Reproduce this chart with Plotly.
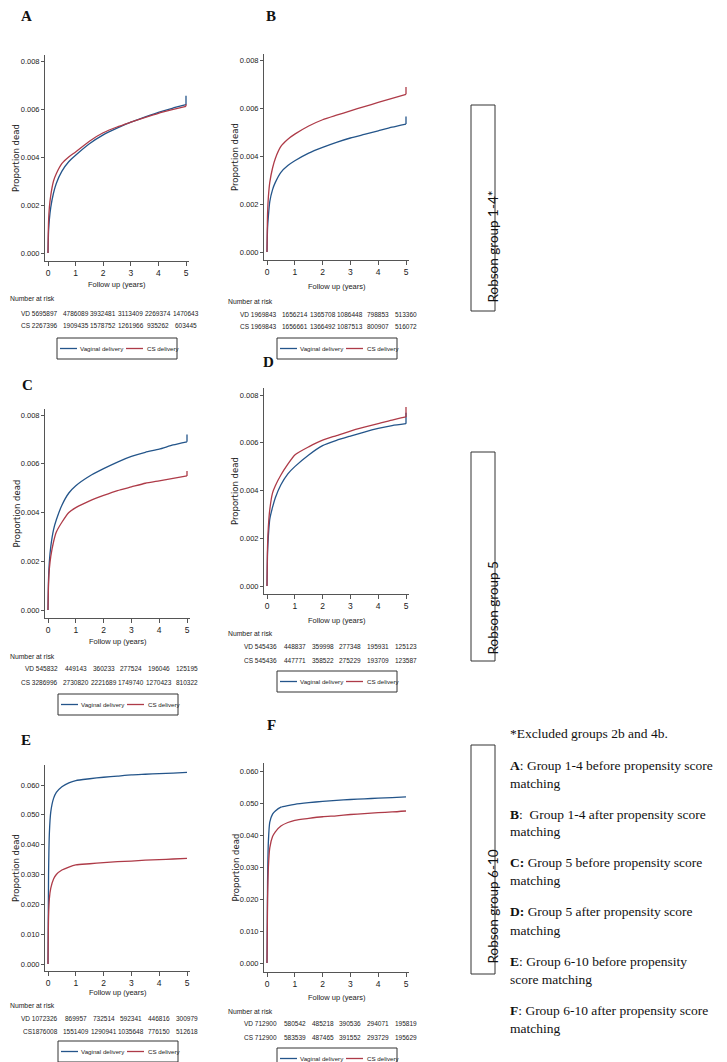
import plotly.graph_objects as go

W, H = 727, 1062

# ---------------- data ----------------
years = [0, 0.02, 0.05, 0.1, 0.2, 0.3, 0.5, 0.75, 1, 1.5, 2, 2.5, 3, 3.5, 4, 4.5, 5, 5]
x_ticks = [0, 1, 2, 3, 4, 5]
risk_times = [0, 1, 2, 3, 4, 5]
y_ticks_small = [0, 0.002, 0.004, 0.006, 0.008]
y_ticks_large = [0, 0.01, 0.02, 0.03, 0.04, 0.05, 0.06]
series_names = ["Vaginal delivery", "CS delivery"]

a_vd = [0, 0.0009, 0.0014, 0.0019, 0.0025, 0.0029, 0.0034, 0.0038, 0.00407, 0.00455, 0.00492, 0.0052, 0.00545, 0.00566, 0.00586, 0.00603, 0.00618, 0.00655]
a_cs = [0, 0.0013, 0.0019, 0.0024, 0.0030, 0.0033, 0.00372, 0.0040, 0.00421, 0.00466, 0.00501, 0.00525, 0.00545, 0.00564, 0.00582, 0.00597, 0.00611, 0.0062]
b_vd = [0, 0.0010, 0.0015, 0.0021, 0.0026, 0.0029, 0.00332, 0.0036, 0.0038, 0.00412, 0.00436, 0.00457, 0.00475, 0.0049, 0.00505, 0.0052, 0.00533, 0.00565]
b_cs = [0, 0.0016, 0.0023, 0.0029, 0.0035, 0.0039, 0.0044, 0.0047, 0.00491, 0.00525, 0.00551, 0.0057, 0.00588, 0.00606, 0.00623, 0.0064, 0.00657, 0.00687]
c_vd = [0, 0.0013, 0.0020, 0.0026, 0.0033, 0.0037, 0.0043, 0.0048, 0.0051, 0.0055, 0.0058, 0.00607, 0.0063, 0.00647, 0.0066, 0.00677, 0.0069, 0.0072]
c_cs = [0, 0.0011, 0.0017, 0.0022, 0.0028, 0.0032, 0.0036, 0.0040, 0.0042, 0.00448, 0.0047, 0.0049, 0.00505, 0.0052, 0.0053, 0.0054, 0.0055, 0.0057]
d_vd = [0, 0.0014, 0.0021, 0.0028, 0.0033, 0.0037, 0.00424, 0.0047, 0.0050, 0.00549, 0.00588, 0.0061, 0.00628, 0.00645, 0.0066, 0.00672, 0.0068, 0.00726]
d_cs = [0, 0.0017, 0.0025, 0.0032, 0.0039, 0.0042, 0.00465, 0.0051, 0.00549, 0.00583, 0.00611, 0.0063, 0.00649, 0.00665, 0.0068, 0.00695, 0.00708, 0.0075]
e_vd = [0, 0.030, 0.044, 0.051, 0.0555, 0.0575, 0.0594, 0.0607, 0.0615, 0.0621, 0.0626, 0.063, 0.0634, 0.0636, 0.0638, 0.064, 0.0642, 0.0642]
e_cs = [0, 0.016, 0.022, 0.0254, 0.0285, 0.0300, 0.0315, 0.0325, 0.0332, 0.0336, 0.034, 0.0343, 0.0345, 0.0348, 0.035, 0.0352, 0.0354, 0.0354]
f_vd = [0, 0.025, 0.038, 0.044, 0.0465, 0.0475, 0.0487, 0.0492, 0.0496, 0.0501, 0.0505, 0.0508, 0.0511, 0.0513, 0.0515, 0.0517, 0.0519, 0.0519]
f_cs = [0, 0.020, 0.030, 0.036, 0.0395, 0.041, 0.0428, 0.0439, 0.0446, 0.0452, 0.0457, 0.046, 0.0464, 0.0467, 0.047, 0.0472, 0.0475, 0.0475]

a_vd_risk = [5695897, 4786089, 3932481, 3113409, 2269374, 1470643]
a_cs_risk = [2267396, 1909435, 1578752, 1261966, 935262, 603445]
b_vd_risk = [1969843, 1656214, 1365708, 1086448, 798853, 513360]
b_cs_risk = [1969843, 1656661, 1366492, 1087513, 800907, 516072]
c_vd_risk = [545832, 449143, 360233, 277524, 196046, 125195]
c_cs_risk = [3286996, 2730820, 2221689, 1749740, 1270423, 810322]
d_vd_risk = [545436, 448837, 359998, 277348, 195931, 125123]
d_cs_risk = [545436, 447771, 358522, 275229, 193709, 123587]
e_vd_risk = [1072326, 869957, 732514, 592341, 446816, 300979]
e_cs_risk = [1876008, 1551409, 1290941, 1035648, 776150, 512618]
f_vd_risk = [712900, 580542, 485218, 390536, 294071, 195819]
f_cs_risk = [712900, 583539, 487465, 391552, 293729, 195629]

robson_labels = ["Robson group 1-4*", "Robson group 5", "Robson group 6-10"]
notes = [
    "*Excluded groups 2b and 4b.",
    "<b>A</b>: Group 1-4 before propensity score", "matching",
    "<b>B</b>:\u00a0 Group 1-4 after propensity score", "matching",
    "<b>C:</b> Group 5 before propensity score", "matching",
    "<b>D:</b> Group 5 after propensity score", "matching",
    "<b>E</b>: Group 6-10 before propensity", "score matching",
    "<b>F</b>: Group 6-10 after propensity score", "matching",
]

panels = [
    ("A", a_vd, a_cs, a_vd_risk, a_cs_risk, y_ticks_small, ("VD ", "CS ")),
    ("B", b_vd, b_cs, b_vd_risk, b_cs_risk, y_ticks_small, ("VD ", "CS ")),
    ("C", c_vd, c_cs, c_vd_risk, c_cs_risk, y_ticks_small, ("VD ", "CS ")),
    ("D", d_vd, d_cs, d_vd_risk, d_cs_risk, y_ticks_small, ("VD ", "CS ")),
    ("E", e_vd, e_cs, e_vd_risk, e_cs_risk, y_ticks_large, ("VD ", "CS")),
    ("F", f_vd, f_cs, f_vd_risk, f_cs_risk, y_ticks_large, ("VD ", "CS ")),
]

# ---------------- geometry (pixels) ----------------
geom = {
    "A": dict(left=37, right=181, x0=40, x5=178, top=47, bottom=253, vbase=245, vref=53,
              letter=(18, 8), xtitle=277, nar=(0, 291), vd=305, cs=317, legend=(49, 330)),
    "B": dict(left=256, right=401, x0=259, x5=398, top=46, bottom=252, vbase=244, vref=52,
              letter=(263, 8), xtitle=278, nar=(218, 293), vd=306, cs=318, legend=(269, 330)),
    "C": dict(left=37, right=182, x0=40, x5=179, top=401, bottom=610, vbase=602, vref=407,
              letter=(19, 377), xtitle=633, nar=(0, 648), vd=661, cs=674, legend=(50, 686)),
    "D": dict(left=256, right=401, x0=259, x5=398, top=380, bottom=586, vbase=578, vref=387,
              letter=(260, 354), xtitle=612, nar=(218, 625), vd=638, cs=652, legend=(269, 663)),
    "E": dict(left=37, right=182, x0=40, x5=179, top=757, bottom=963, vbase=956, vref=777,
              letter=(18, 732), xtitle=984, nar=(0, 997), vd=1010, cs=1023, legend=(50, 1033)),
    "F": dict(left=256, right=401, x0=259, x5=398, top=755, bottom=964, vbase=955, vref=763,
              letter=(263, 717), xtitle=989, nar=(218, 1003), vd=1015, cs=1029, legend=(269, 1040)),
}

BLUE = "#24558a"
RED = "#ae3b48"
AX = "#555555"
SANS = "Liberation Sans, Arial, sans-serif"
SERIF = "Liberation Serif, Times New Roman, serif"


def px(x):
    return x / W


def py(y):
    return 1 - y / H


fig = go.Figure()
annotations = []
shapes = []
layout_axes = {}

for i, (letter, vd, cs, vd_r, cs_r, yt, prefixes) in enumerate(panels, start=1):
    g = geom[letter]
    xa = "x" if i == 1 else f"x{i}"
    ya = "y" if i == 1 else f"y{i}"
    xkey = "xaxis" if i == 1 else f"xaxis{i}"
    ykey = "yaxis" if i == 1 else f"yaxis{i}"

    sx = (g["x5"] - g["x0"]) / 5.0
    xr = [(g["left"] - g["x0"]) / sx, (g["right"] - g["x0"]) / sx]
    sy = (g["vbase"] - g["vref"]) / yt[-1]
    yr = [(g["vbase"] - g["bottom"]) / sy, (g["vbase"] - g["top"]) / sy]

    layout_axes[xkey] = dict(
        domain=[px(g["left"]), px(g["right"])], range=xr, anchor=ya,
        tickvals=x_ticks, ticktext=[str(t) for t in x_ticks],
        showline=True, linecolor=AX, linewidth=1, ticks="outside", ticklen=4,
        tickcolor=AX, showgrid=False, zeroline=False,
        tickfont=dict(family=SANS, size=8.5, color="#222"),
    )
    layout_axes[ykey] = dict(
        domain=[py(g["bottom"]), py(g["top"])], range=yr, anchor=xa,
        tickvals=yt, tickformat=".3f",
        showline=True, linecolor=AX, linewidth=1, ticks="outside", ticklen=3,
        tickcolor=AX, showgrid=False, zeroline=False,
        tickfont=dict(family=SANS, size=7.5, color="#222"),
    )

    for name, vals, col in ((series_names[0], vd, BLUE), (series_names[1], cs, RED)):
        # main curve (smoothed) and the closing vertical tick at the last follow-up time
        fig.add_trace(go.Scatter(
            x=years[:-1], y=vals[:-1], mode="lines", name=name, xaxis=xa, yaxis=ya,
            line=dict(color=col, width=1.3, shape="spline", smoothing=0.6), showlegend=False,
        ))
        fig.add_trace(go.Scatter(
            x=years[-2:], y=vals[-2:], mode="lines", name=name, xaxis=xa, yaxis=ya,
            line=dict(color=col, width=1.3), showlegend=False, hoverinfo="skip",
        ))

    # panel letter
    annotations.append(dict(text=f"<b>{letter}</b>", x=px(g["letter"][0]), y=py(g["letter"][1]),
                            xref="paper", yref="paper", showarrow=False, xanchor="center",
                            yanchor="middle", font=dict(family=SERIF, size=15, color="#111")))
    # y-axis title
    annotations.append(dict(text="Proportion dead", x=px(g["left"] - 29),
                            y=py((g["top"] + g["bottom"]) / 2), xref="paper", yref="paper",
                            showarrow=False, textangle=-90, xanchor="center", yanchor="middle",
                            font=dict(family="DejaVu Sans", size=8.5, color="#222")))
    # x-axis title
    annotations.append(dict(text="Follow up (years)", x=2.5, y=py(g["xtitle"]), xref=xa,
                            yref="paper", showarrow=False, xanchor="center", yanchor="middle",
                            font=dict(family=SANS, size=7.5, color="#222")))
    # number at risk
    annotations.append(dict(text="Number at risk", x=px(g["nar"][0]), y=py(g["nar"][1]),
                            xref="paper", yref="paper", showarrow=False, xanchor="left",
                            yanchor="middle", font=dict(family=SANS, size=6.8, color="#222")))
    for row_y, risk, pre in ((g["vd"], vd_r, prefixes[0]), (g["cs"], cs_r, prefixes[1])):
        for k, (t, n) in enumerate(zip(risk_times, risk)):
            first = k == 0
            annotations.append(dict(
                text=(pre + str(n)) if first else str(n), x=t, y=py(row_y), xref=xa,
                yref="paper", showarrow=False, xanchor="right" if first else "center",
                yanchor="middle", xshift=12 if first else 0,
                font=dict(family=SANS, size=6.5, color="#222")))
    # legend box
    lx, ly = g["legend"]
    shapes.append(dict(type="rect", xref="paper", yref="paper", x0=px(lx), x1=px(lx + 120),
                       y0=py(ly), y1=py(ly + 21), line=dict(color="#333", width=1)))
    for dx0, dx1, tx, col, name in ((3, 20, 21, BLUE, series_names[0]),
                                     (69, 86, 88, RED, series_names[1])):
        shapes.append(dict(type="line", xref="paper", yref="paper", x0=px(lx + dx0),
                           x1=px(lx + dx1), y0=py(ly + 10.5), y1=py(ly + 10.5),
                           line=dict(color=col, width=1.3)))
        annotations.append(dict(text=name, x=px(lx + tx), y=py(ly + 10.5), xref="paper",
                                yref="paper", showarrow=False, xanchor="left", yanchor="middle",
                                font=dict(family=SANS, size=6.2, color="#222")))

# Robson boxes
robson_boxes = [(97, 303, 239), (444, 653, 600), (737, 966, 899)]
for label, (t, b, c) in zip(robson_labels, robson_boxes):
    shapes.append(dict(type="rect", xref="paper", yref="paper", x0=px(463), x1=px(487),
                       y0=py(b), y1=py(t), line=dict(color="#333", width=1)))
    annotations.append(dict(text=label, x=px(484.5), y=py(c), xref="paper", yref="paper",
                            showarrow=False, textangle=-90, xanchor="center", yanchor="middle",
                            font=dict(family="Lato, Liberation Sans, sans-serif", size=13.5,
                                      color="#111")))

# notes on the right
note_y = [725, 757, 775, 806, 823, 854, 872, 903, 922, 953, 971, 1002, 1020]
for txt, yy in zip(notes, note_y):
    annotations.append(dict(text=txt, x=px(500), y=py(yy), xref="paper", yref="paper",
                            showarrow=False, xanchor="left", yanchor="middle",
                            font=dict(family=SERIF, size=13.5, color="#111")))

fig.update_layout(
    width=W, height=H, margin=dict(l=0, r=0, t=0, b=0),
    paper_bgcolor="white", plot_bgcolor="white", showlegend=False,
    annotations=annotations, shapes=shapes, **layout_axes,
)

fig.write_html("out.html")
